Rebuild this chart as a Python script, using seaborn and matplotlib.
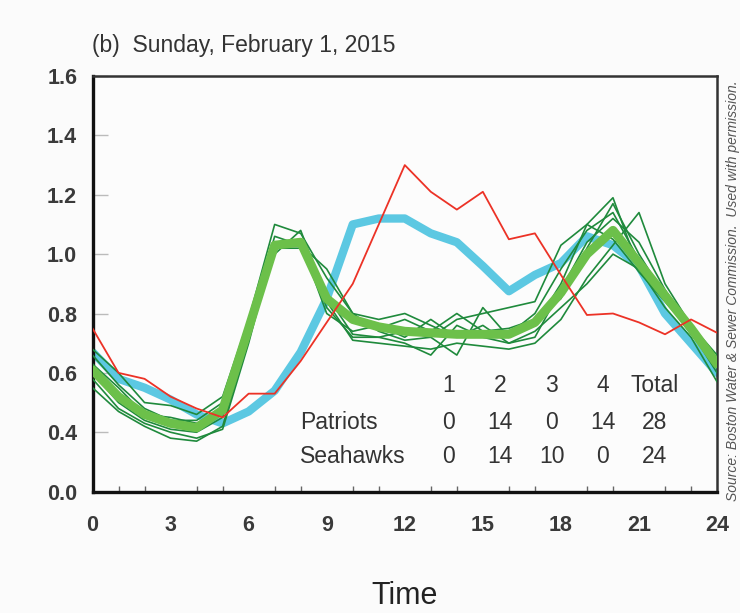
import numpy as np
import pandas as pd
import seaborn as sns
import matplotlib.pyplot as plt
from matplotlib.ticker import MultipleLocator

# hourly demand pattern, Sunday Feb 1 2015
hours = list(range(25))

super_bowl = [0.75, 0.60, 0.58, 0.52, 0.48, 0.45, 0.53, 0.53, 0.64, 0.77, 0.90, 1.10, 1.30,
              1.21, 1.15, 1.21, 1.05, 1.07, 0.93, 0.795, 0.80, 0.77, 0.73, 0.78, 0.735]
blue_line = [0.67, 0.58, 0.55, 0.51, 0.46, 0.43, 0.47, 0.54, 0.67, 0.85, 1.10, 1.12, 1.12,
             1.07, 1.04, 0.96, 0.875, 0.93, 0.97, 1.06, 1.03, 0.96, 0.80, 0.70, 0.60]
avg_sunday = [0.61, 0.52, 0.46, 0.43, 0.415, 0.475, 0.75, 1.03, 1.04, 0.85, 0.78, 0.755, 0.74,
              0.735, 0.73, 0.73, 0.73, 0.77, 0.87, 1.00, 1.08, 0.97, 0.86, 0.75, 0.63]

other_sundays = [
    [0.68, 0.60, 0.50, 0.49, 0.46, 0.52, 0.78, 1.10, 1.07, 0.92, 0.80, 0.78, 0.80,
     0.76, 0.72, 0.74, 0.73, 0.80, 0.95, 1.08, 1.14, 0.98, 0.86, 0.76, 0.62],
    [0.55, 0.47, 0.42, 0.38, 0.37, 0.42, 0.72, 1.04, 1.05, 0.82, 0.72, 0.72, 0.74,
     0.72, 0.66, 0.82, 0.72, 0.76, 0.90, 1.10, 1.19, 0.95, 0.82, 0.72, 0.57],
    [0.63, 0.55, 0.46, 0.45, 0.43, 0.48, 0.75, 1.06, 1.03, 0.95, 0.80, 0.74, 0.71,
     0.72, 0.78, 0.80, 0.82, 0.84, 1.03, 1.10, 1.05, 0.94, 0.84, 0.74, 0.63],
    [0.60, 0.50, 0.44, 0.41, 0.40, 0.45, 0.74, 1.02, 1.02, 0.84, 0.71, 0.70, 0.69,
     0.68, 0.70, 0.69, 0.68, 0.70, 0.78, 0.92, 1.03, 1.14, 0.90, 0.76, 0.66],
    [0.66, 0.56, 0.48, 0.44, 0.44, 0.50, 0.76, 1.00, 1.08, 0.85, 0.78, 0.75, 0.78,
     0.74, 0.80, 0.74, 0.75, 0.78, 0.85, 1.02, 1.17, 1.00, 0.86, 0.74, 0.60],
    [0.58, 0.48, 0.43, 0.40, 0.38, 0.41, 0.70, 1.03, 1.04, 0.80, 0.74, 0.76, 0.72,
     0.78, 0.72, 0.76, 0.70, 0.74, 0.82, 0.90, 1.00, 0.95, 0.85, 0.73, 0.62],
    [0.62, 0.52, 0.45, 0.43, 0.42, 0.46, 0.74, 1.03, 1.05, 0.86, 0.73, 0.72, 0.70,
     0.66, 0.76, 0.72, 0.70, 0.72, 0.88, 1.04, 1.12, 1.04, 0.88, 0.75, 0.64],
]

# score table
quarters = ['1', '2', '3', '4', 'Total']
patriots = ['0', '14', '0', '14', '28']
seahawks = ['0', '14', '10', '0', '24']

# y axis is broken: bottom tick is labelled 0.0 but sits one step below 0.4
ytick_pos = [0.2, 0.4, 0.6, 0.8, 1.0, 1.2, 1.4, 1.6]
ytick_lab = ['0.0', '0.4', '0.6', '0.8', '1.0', '1.2', '1.4', '1.6']

sns.set_theme(style='white')
plt.rcParams['font.family'] = ['Liberation Sans', 'DejaVu Sans']

fig = plt.figure(figsize=(7.4, 6.13), dpi=100, facecolor='#fbfbfb')
ax = fig.add_axes([0.125, 0.198, 0.844, 0.678])
ax.set_facecolor('#fcfcfc')

sns.lineplot(x=hours, y=blue_line, ax=ax, color='#5cc8e2', lw=6, zorder=2)
for s in other_sundays:
    sns.lineplot(x=hours, y=s, ax=ax, color='#1f8a3c', lw=1.2, zorder=3)
sns.lineplot(x=hours, y=avg_sunday, ax=ax, color='#6cc04a', lw=6.5, zorder=4)
sns.lineplot(x=hours, y=super_bowl, ax=ax, color='#ec3226', lw=1.3, zorder=5)

ax.set_xlim(0, 24)
ax.set_ylim(0.2, 1.6)
ax.xaxis.set_major_locator(MultipleLocator(3))
ax.xaxis.set_minor_locator(MultipleLocator(1))
ax.set_yticks(ytick_pos)
ax.set_yticklabels(ytick_lab)

ax.tick_params(axis='x', which='major', direction='in', length=9, width=1.2,
               color='#555555', pad=17, labelsize=15.5, labelcolor='#3a3a3a')
ax.tick_params(axis='x', which='minor', direction='in', length=4.5, width=1.0,
               color='#666666', bottom=True)
ax.tick_params(axis='y', which='major', direction='in', length=11, width=1.0,
               color='#bbbbbb', pad=11, labelsize=15.5, labelcolor='#3a3a3a', left=True)
for lab in ax.get_xticklabels() + ax.get_yticklabels():
    lab.set_fontweight('bold')

for side in ['left', 'bottom']:
    ax.spines[side].set_linewidth(2.4)
    ax.spines[side].set_color('#111111')
for side in ['top', 'right']:
    ax.spines[side].set_linewidth(1.8)
    ax.spines[side].set_color('#333333')

ax.set_title('(b)  Sunday, February 1, 2015', loc='left', fontsize=16.5,
             color='#333333', pad=17)
ax.set_xlabel('Time', fontsize=22, color='#222222', labelpad=32)
ax.set_ylabel('')

# score table inside the plot
col_x = [13.69, 15.65, 17.64, 19.6, 21.6]
tkw = dict(va='center', fontsize=16.5, color='#333333')
for cx, q, p, s in zip(col_x, quarters, patriots, seahawks):
    ax.text(cx, 0.556, q, ha='center', **tkw)
    ax.text(cx, 0.432, p, ha='center', **tkw)
    ax.text(cx, 0.317, s, ha='center', **tkw)
ax.text(7.97, 0.432, 'Patriots', ha='left', **tkw)
ax.text(7.97, 0.317, 'Seahawks', ha='left', **tkw)

fig.text(0.99, 0.525, 'Source: Boston Water & Sewer Commission.  Used with permission.',
         rotation=90, ha='center', va='center', fontsize=10, style='italic',
         color='#555555')

fig.savefig('out.png', dpi=100, facecolor=fig.get_facecolor())
